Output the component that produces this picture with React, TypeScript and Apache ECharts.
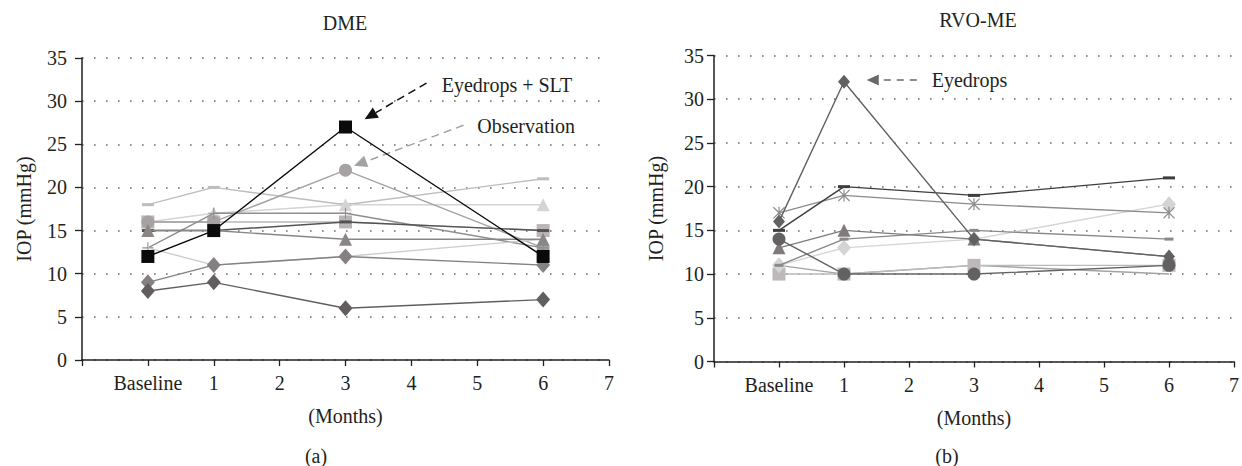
import React, { useEffect, useRef } from "react";
import * as echarts from "echarts";

// ---------- data ----------
const months = [0, 1, 3, 6];
const xTickValues = [-1, 0, 1, 2, 3, 4, 5, 6, 7];
const xTickLabels = ["", "Baseline", "1", "2", "3", "4", "5", "6", "7"];
const yMin = 0;
const yMax = 35;
const yStep = 5;

const panelTitles = ["DME", "RVO-ME"];
const panelTags = ["(a)", "(b)"];
const xAxisName = "(Months)";
const yAxisName = "IOP (mmHg)";

// DME patients (IOP in mmHg at baseline, 1, 3, 6 months)
const dmeLightDash = [18, 20, 18, 21];
const dmeLightTriangle = [16, 17, 18, 18];
const dmeGraySquare = [16, 16, 16, 15];
const dmeCircle = [16, 16, 22, 13];
const dmePlus = [13, 17, 17, 13];
const dmeLight = [13, 11, 12, 14];
const dmeDarkDash = [15, 15, 16, 15];
const dmeMidTriangle = [15, 15, 14, 14];
const dmeMidDiamond = [9, 11, 12, 11];
const dmeDarkDiamond = [8, 9, 6, 7];
const dmeBlackSquare = [12, 15, 27, 12];

// RVO-ME patients
const rvoGray = [11, 10, 11, 10];
const rvoSquare = [10, 10, 11, 11];
const rvoLightDiamond = [11, 13, 14, 18];
const rvoSmallDash = [11, 14, 15, 14];
const rvoTriangle = [13, 15, 14, 12];
const rvoCircle = [14, 10, 10, 11];
const rvoAsterisk = [17, 19, 18, 17];
const rvoDarkDash = [15, 20, 19, 21];
const rvoDiamond = [16, 32, 14, 12];

// annotation anchors in data space [month, IOP]
const dmeSltLabel = "Eyedrops + SLT";
const dmeSltArrow = { from: [4.23, 32.1], to: [3.29, 27.9], text: [4.46, 31.9] };
const dmeObsLabel = "Observation";
const dmeObsArrow = { from: [4.79, 27.2], to: [3.13, 22.5], text: [5.0, 27.1] };
const rvoDropsLabel = "Eyedrops";
const rvoDropsArrow = { from: [2.12, 32.2], to: [1.35, 32.2], text: [2.35, 32.2] };

// ---------- styles ----------
const FONT = '"Liberation Serif", "Times New Roman", serif';
const TXT = "#231f20";
const PLUS = "path://M5.4,0H6.6V5.4H12V6.6H6.6V12H5.4V6.6H0V5.4H5.4Z";
const ASTER =
  "path://M5.4,0H6.6V12H5.4Z M0,0.8L0.8,0L12,11.2L11.2,12Z M11.2,0L12,0.8L0.8,12L0,11.2Z";

type St = { symbol: string; size: any; color: string; line?: string };

const dmeSeries: [number[], St][] = [
  [dmeLightDash, { symbol: "rect", size: [12, 3], color: "#bdbdbd" }],
  [dmeLightTriangle, { symbol: "triangle", size: 13, color: "#d4d4d4" }],
  [dmeGraySquare, { symbol: "rect", size: 13, color: "#bab6b6" }],
  [dmeCircle, { symbol: "circle", size: 13, color: "#a6a2a2" }],
  [dmePlus, { symbol: PLUS, size: 11, color: "#8e8e8e" }],
  [dmeLight, { symbol: "none", size: 0, color: "#cdcdcd" }],
  [dmeDarkDash, { symbol: "rect", size: [12, 3], color: "#555252" }],
  [dmeMidTriangle, { symbol: "triangle", size: 13, color: "#8a8686" }],
  [dmeMidDiamond, { symbol: "diamond", size: [14, 16], color: "#858181" }],
  [dmeDarkDiamond, { symbol: "diamond", size: [14, 16], color: "#625e5e" }],
  [dmeBlackSquare, { symbol: "rect", size: 13, color: "#0a0a0a" }],
];

const rvoSeries: [number[], St][] = [
  [rvoGray, { symbol: "none", size: 0, color: "#a3a3a3" }],
  [rvoSquare, { symbol: "rect", size: 13, color: "#bdb9b9" }],
  [rvoLightDiamond, { symbol: "diamond", size: [14, 16], color: "#d4d4d4" }],
  [rvoSmallDash, { symbol: "rect", size: [9, 3], color: "#8a8888" }],
  [rvoTriangle, { symbol: "triangle", size: 13, color: "#7f7b7b" }],
  [rvoCircle, { symbol: "circle", size: 13, color: "#646161" }],
  [rvoAsterisk, { symbol: ASTER, size: 12, color: "#8c8a8a" }],
  [rvoDarkDash, { symbol: "rect", size: [12, 3], color: "#3f3d3d" }],
  [rvoDiamond, { symbol: "diamond", size: [12, 14], color: "#636060" }],
];

function buildSeries(gi: number, list: [number[], St][]) {
  return list.map(([vals, st], i) => ({
    type: "line",
    xAxisIndex: gi,
    yAxisIndex: gi,
    data: months.map((m, k) => [m, vals[k]]),
    symbol: st.symbol === "none" ? "none" : st.symbol,
    showSymbol: st.symbol !== "none",
    symbolSize: st.size,
    lineStyle: { color: st.line ?? st.color, width: 1.4 },
    itemStyle: { color: st.color },
    z: 2 + i,
    silent: true,
  }));
}

function xAxis(gi: number) {
  return {
    type: "value",
    gridIndex: gi,
    min: -1,
    max: 7,
    interval: 1,
    name: xAxisName,
    nameLocation: "middle",
    nameGap: 46,
    nameTextStyle: { fontFamily: FONT, fontSize: 20, color: TXT },
    axisLine: { show: true, onZero: false, lineStyle: { color: "#231f20", width: 1.5 } },
    axisTick: { show: true, length: 6, lineStyle: { color: "#231f20", width: 1.3 } },
    axisLabel: {
      fontFamily: FONT,
      fontSize: 20,
      color: TXT,
      margin: 13,
      showMaxLabel: true,
      formatter: (v: number) => {
        const k = xTickValues.indexOf(v);
        return k >= 0 ? xTickLabels[k] : "";
      },
    },
    splitLine: { show: false },
  };
}

function yAxis(gi: number, labelMargin: number) {
  return {
    type: "value",
    gridIndex: gi,
    min: yMin,
    max: yMax,
    interval: yStep,
    name: yAxisName,
    nameLocation: "middle",
    nameRotate: 90,
    nameGap: 48,
    nameTextStyle: { fontFamily: FONT, fontSize: 20, color: TXT },
    axisLine: { show: true, onZero: false, lineStyle: { color: "#231f20", width: 1.5 } },
    axisTick: { show: true, length: 7, lineStyle: { color: "#231f20", width: 1.3 } },
    axisLabel: { fontFamily: FONT, fontSize: 20, color: TXT, margin: labelMargin },
    splitLine: {
      show: true,
      lineStyle: { color: "#6a6a6a", width: 1.6, type: [1.6, 10.4] },
    },
  };
}

function arrowEls(from: number[], to: number[], color: string, dash: number[], hl: number, hw: number) {
  const dx = to[0] - from[0];
  const dy = to[1] - from[1];
  const len = Math.hypot(dx, dy) || 1;
  const ux = dx / len;
  const uy = dy / len;
  const base = [to[0] - ux * hl, to[1] - uy * hl];
  const left = [base[0] - uy * hw, base[1] + ux * hw];
  const right = [base[0] + uy * hw, base[1] - ux * hw];
  return [
    {
      type: "line",
      shape: { x1: from[0], y1: from[1], x2: base[0], y2: base[1] },
      style: { stroke: color, lineWidth: 1.5, lineDash: dash },
      silent: true,
    },
    {
      type: "polygon",
      shape: { points: [to, left, right] },
      style: { fill: color },
      silent: true,
    },
  ];
}

function textEl(p: number[], text: string) {
  return {
    type: "text",
    x: p[0],
    y: p[1],
    silent: true,
    style: {
      text,
      fill: TXT,
      fontFamily: FONT,
      fontSize: 20,
      align: "left",
      verticalAlign: "middle",
    },
  };
}

export default function App() {
  const ref = useRef<HTMLDivElement>(null);

  useEffect(() => {
    if (!ref.current) return;
    const chart = echarts.init(ref.current, undefined, { renderer: "svg" });
    const option: any = {
      animation: false,
      backgroundColor: "#ffffff",
      title: [
        { text: panelTitles[0], left: 345, top: 13, textAlign: "center", padding: 0,
          textStyle: { fontFamily: FONT, fontSize: 20, fontWeight: "normal", color: TXT } },
        { text: panelTitles[1], left: 978, top: 10, textAlign: "center", padding: 0,
          textStyle: { fontFamily: FONT, fontSize: 20, fontWeight: "normal", color: TXT } },
        { text: panelTags[0], left: 316, top: 446, textAlign: "center", padding: 0,
          textStyle: { fontFamily: FONT, fontSize: 20, fontWeight: "normal", color: TXT } },
        { text: panelTags[1], left: 947, top: 446, textAlign: "center", padding: 0,
          textStyle: { fontFamily: FONT, fontSize: 20, fontWeight: "normal", color: TXT } },
      ],
      grid: [
        { left: 82, top: 58, width: 527, height: 302 },
        { left: 714, top: 55.5, width: 528, height: 306 },
      ],
      xAxis: [xAxis(0), xAxis(1)],
      yAxis: [yAxis(0, 15), yAxis(1, 10)],
      series: [...buildSeries(0, dmeSeries), ...buildSeries(1, rvoSeries)],
    };
    chart.setOption(option);

    const px = (gi: number, p: number[]) => chart.convertToPixel({ gridIndex: gi } as any, p) as number[];
    const graphic: any[] = [
      ...arrowEls(px(0, dmeSltArrow.from), px(0, dmeSltArrow.to), "#111111", [8, 5], 13, 6),
      textEl(px(0, dmeSltArrow.text), dmeSltLabel),
      ...arrowEls(px(0, dmeObsArrow.from), px(0, dmeObsArrow.to), "#a3a1a1", [8, 5], 13, 6),
      textEl(px(0, dmeObsArrow.text), dmeObsLabel),
      ...arrowEls(px(1, rvoDropsArrow.from), px(1, rvoDropsArrow.to), "#6a6767", [7, 6], 12, 5.5),
      textEl(px(1, rvoDropsArrow.text), rvoDropsLabel),
    ];
    chart.setOption({ graphic });

    return () => chart.dispose();
  }, []);

  return (
    <div
      ref={ref}
      style={{ position: "fixed", left: 0, top: 0, width: 1242, height: 466, background: "#fff" }}
    />
  );
}
